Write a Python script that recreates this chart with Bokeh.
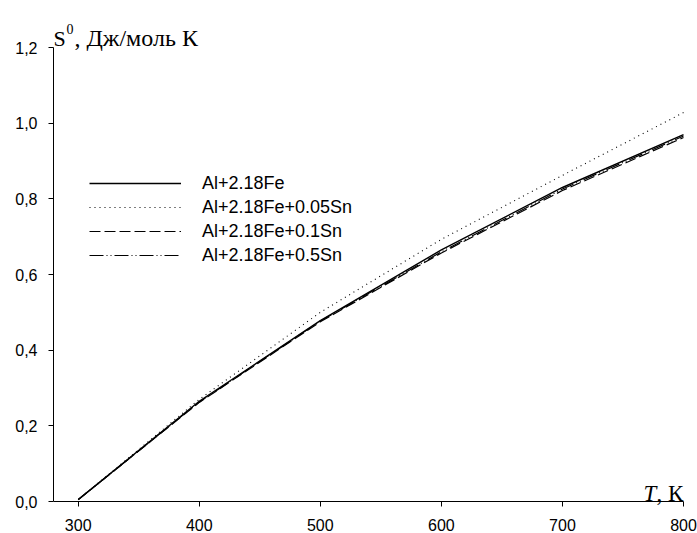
from bokeh.plotting import figure
from bokeh.models import Range1d, FixedTicker, CustomJSTickFormatter, Label, Legend, LegendItem
from bokeh.embed import file_html
from bokeh.resources import INLINE

# data
T = [300, 400, 500, 600, 700, 800]
s_al_fe = [0.005, 0.265, 0.478, 0.665, 0.830, 0.970]
s_sn005 = [0.005, 0.270, 0.500, 0.693, 0.862, 1.028]
s_sn01 = [0.005, 0.262, 0.475, 0.657, 0.822, 0.962]
s_sn05 = [0.005, 0.263, 0.477, 0.660, 0.826, 0.966]
names = ["Al+2.18Fe", "Al+2.18Fe+0.05Sn", "Al+2.18Fe+0.1Sn", "Al+2.18Fe+0.5Sn"]
x_ticks = [300, 400, 500, 600, 700, 800]
y_ticks = [0.0, 0.2, 0.4, 0.6, 0.8, 1.0, 1.2]

p = figure(width=697, height=533, output_backend="svg", toolbar_location=None,
           x_range=Range1d(279.6, 811.56), y_range=Range1d(-0.08458, 1.32423),
           min_border_left=53, min_border_right=0, min_border_top=0, min_border_bottom=0)
p.outline_line_color = None
p.grid.visible = False
p.background_fill_color = "white"
p.border_fill_color = "white"

for ax in (p.xaxis[0], p.yaxis[0]):
    ax.axis_line_color = "black"
    ax.axis_line_width = 1
    ax.major_tick_line_color = "black"
    ax.major_tick_out = 5
    ax.major_tick_in = 0
    ax.minor_tick_line_color = None
    ax.major_label_text_font = "Liberation Sans"
    ax.major_label_text_font_size = "16px"
    ax.major_label_text_color = "black"

p.xaxis.ticker = FixedTicker(ticks=x_ticks)
p.yaxis.ticker = FixedTicker(ticks=y_ticks)
p.xaxis.fixed_location = 0
p.xaxis.bounds = (279.6, 800)
p.yaxis.bounds = (0, 1.2)
p.xaxis.major_label_standoff = 12
p.yaxis.major_label_standoff = 11
p.yaxis.formatter = CustomJSTickFormatter(code="return tick.toFixed(1).replace('.', ',');")

r_dot = p.line(T, s_sn005, line_color="black", line_width=1.1, line_dash="1 4")
r_dash = p.line(T, s_sn01, line_color="black", line_width=1.2, line_dash="11 4")
r_dd = p.line(T, s_sn05, line_color="black", line_width=1.2, line_dash="14 3 1 3 1 3")
r_solid = p.line(T, s_al_fe, line_color="black", line_width=1.4)

legend = Legend(items=[LegendItem(label=names[0], renderers=[r_solid]),
                       LegendItem(label=names[1], renderers=[r_dot]),
                       LegendItem(label=names[2], renderers=[r_dash]),
                       LegendItem(label=names[3], renderers=[r_dd])],
                location=(36, 266), glyph_width=92, glyph_height=24, label_height=24,
                label_standoff=21, spacing=0, padding=0, margin=0,
                border_line_color=None, background_fill_alpha=0,
                label_text_font="Liberation Sans", label_text_font_size="18px",
                label_text_color="black")
p.add_layout(legend, "center")

# axis titles
title_y = 1.2238
p.add_layout(Label(x=279.6, y=title_y, x_offset=0, y_offset=0, text="S",
                   text_font="Liberation Serif", text_font_size="22px", text_color="black",
                   text_baseline="alphabetic"))
p.add_layout(Label(x=279.6, y=title_y, x_offset=13, y_offset=9, text="0",
                   text_font="Liberation Serif", text_font_size="14px", text_color="black",
                   text_baseline="alphabetic"))
p.add_layout(Label(x=279.6, y=title_y, x_offset=21, y_offset=0, text=", Дж/моль К",
                   text_font="Liberation Serif", text_font_size="24px", text_color="black",
                   text_baseline="alphabetic"))
p.add_layout(Label(x=800, y=0, x_offset=-40, y_offset=8, text="T",
                   text_font="Liberation Serif", text_font_style="italic", text_font_size="23px",
                   text_color="black", text_align="left", text_baseline="alphabetic"))
p.add_layout(Label(x=800, y=0, x_offset=-27, y_offset=8, text=", К",
                   text_font="Liberation Serif", text_font_size="23px",
                   text_color="black", text_align="left", text_baseline="alphabetic"))

open("out.html", "w").write(file_html(p, INLINE))
